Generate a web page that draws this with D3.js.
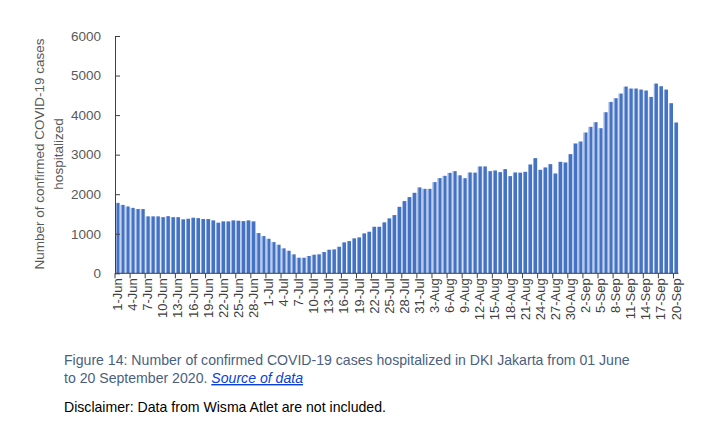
<!DOCTYPE html>
<html>
<head>
<meta charset="utf-8">
<script src="https://cdn.jsdelivr.net/npm/d3@7"></script>
<style>
  html, body { margin: 0; padding: 0; background: #fff; }
  svg { display: block; }
</style>
</head>
<body>
<svg id="chart" width="720" height="440"></svg>
<script>
// ---- Data ----
const startDate = "2020-06-01";
const endDate = "2020-09-20";
const hospitalized = [
  1780, 1730, 1690, 1655, 1625, 1625, 1440, 1440, 1440, 1420,
  1445, 1420, 1420, 1365, 1380, 1405, 1395, 1372, 1372, 1338,
  1280, 1313, 1313, 1338, 1330, 1320, 1338, 1313, 1018, 942,
  874, 790, 723, 631, 571, 480, 394, 394, 437, 470,
  480, 538, 596, 605, 672, 782, 815, 884, 909, 1010,
  1051, 1177, 1177, 1288, 1389, 1472, 1682, 1826, 1927, 2035,
  2172, 2136, 2136, 2306, 2407, 2465, 2540, 2583, 2478, 2405,
  2550, 2545, 2702, 2702, 2583, 2600, 2558, 2634, 2457, 2550,
  2545, 2566, 2752, 2912, 2617, 2677, 2760, 2525, 2819, 2803,
  3013, 3283, 3333, 3560, 3703, 3821, 3669, 4073, 4333, 4427,
  4545, 4722, 4672, 4672, 4646, 4621, 4460, 4798, 4730, 4646,
  4301, 3813
];
const yTicks = [0, 1000, 2000, 3000, 4000, 5000, 6000];
const labelEvery = 3;
const yTitleLines = ["Number of confirmed COVID-19 cases", "hospitalized"];
const captionLine1 = "Figure 14: Number of confirmed COVID-19 cases hospitalized in DKI Jakarta from 01 June";
const captionLine2a = "to 20 September 2020. ";
const captionLink = "Source of data";
const disclaimer = "Disclaimer: Data from Wisma Atlet are not included.";

// categories (dates)
const fmt = d3.utcFormat("%-d-%b");
const dates = d3.utcDay.range(new Date(startDate + "T00:00:00Z"), d3.utcDay.offset(new Date(endDate + "T00:00:00Z"), 1));
const categories = dates.map(fmt);
const data = categories.map((c, i) => ({ cat: c, value: hospitalized[i], i }));

// ---- Layout ----
const svg = d3.select("#chart");
const plotLeft = 115, plotRight = 678.5, plotTop = 36, plotBottom = 273.3;
const font = "'Liberation Sans', Arial, sans-serif";

const x = d3.scaleBand().domain(categories).range([plotLeft, plotRight]).paddingInner(0.18).paddingOuter(0.09);
const y = d3.scaleLinear().domain([0, 6000]).range([plotBottom, plotTop]);

// gradient for bars (lighter left edge)
const defs = svg.append("defs");
const grad = defs.append("linearGradient").attr("id", "barGrad").attr("x1", 0).attr("x2", 1).attr("y1", 0).attr("y2", 0);
grad.append("stop").attr("offset", "0%").attr("stop-color", "#8EA9DB");
grad.append("stop").attr("offset", "28%").attr("stop-color", "#8EA9DB");
grad.append("stop").attr("offset", "29%").attr("stop-color", "#4472C4");
grad.append("stop").attr("offset", "100%").attr("stop-color", "#4472C4");

// bars
svg.append("g").selectAll("rect").data(data).join("rect")
  .attr("x", d => x(d.cat))
  .attr("width", x.bandwidth())
  .attr("y", d => y(d.value))
  .attr("height", d => y(0) - y(d.value))
  .attr("fill", "url(#barGrad)");

// y axis
const yAxis = svg.append("g").attr("transform", `translate(${plotLeft},0)`)
  .call(d3.axisLeft(y).tickValues(yTicks).tickSizeInner(-5).tickSizeOuter(0).tickPadding(14).tickFormat(d3.format("d")));
yAxis.select(".domain").attr("stroke", "#404040").attr("stroke-width", 1);
yAxis.selectAll(".tick line").attr("stroke", "#404040");
yAxis.selectAll(".tick text").attr("font-family", font).attr("font-size", 13.5).attr("fill", "#595959");

// x axis
const xAxis = svg.append("g").attr("transform", `translate(0,${plotBottom})`)
  .call(d3.axisBottom(x).tickSize(0).tickFormat((d, i) => i % labelEvery === 0 ? d : ""));
xAxis.select(".domain").attr("stroke", "#404040").attr("d", `M${plotLeft},0H${plotRight}`);
xAxis.selectAll(".tick text")
  .attr("font-family", font).attr("font-size", 13).attr("fill", "#404040")
  .attr("text-anchor", "end")
  .attr("transform", "rotate(-90)")
  .attr("x", -5).attr("y", 0).attr("dy", "0.35em");
// tick marks at category boundaries every 3rd category
const step = x.step();
const tickCats = categories.filter((c, i) => i % labelEvery === 0);
xAxis.append("g").selectAll("line").data(tickCats).join("line")
  .attr("x1", d => x(d) - x.paddingInner() * step / 2).attr("x2", d => x(d) - x.paddingInner() * step / 2)
  .attr("y1", 0).attr("y2", 5)
  .attr("stroke", "#404040");

// y title
const yt = svg.append("g").attr("font-family", font).attr("font-size", 13.5).attr("fill", "#595959");
yTitleLines.forEach((t, k) => {
  yt.append("text")
    .attr("transform", `translate(${44 + k * 18.5},154) rotate(-90)`)
    .attr("text-anchor", "middle")
    .text(t);
});

// caption
const cap = svg.append("g").attr("font-family", font).attr("font-size", 14.1);
cap.append("text").attr("x", 64).attr("y", 365).attr("fill", "#4A5F7E").text(captionLine1);
const l2 = cap.append("text").attr("x", 64).attr("y", 383).attr("fill", "#4A5F7E");
l2.append("tspan").text(captionLine2a);
l2.append("tspan").attr("fill", "#0B3FD6").attr("font-style", "italic").attr("text-decoration", "underline").text(captionLink);
cap.append("text").attr("x", 64).attr("y", 412).attr("fill", "#000").text(disclaimer);
</script>
</body>
</html>
